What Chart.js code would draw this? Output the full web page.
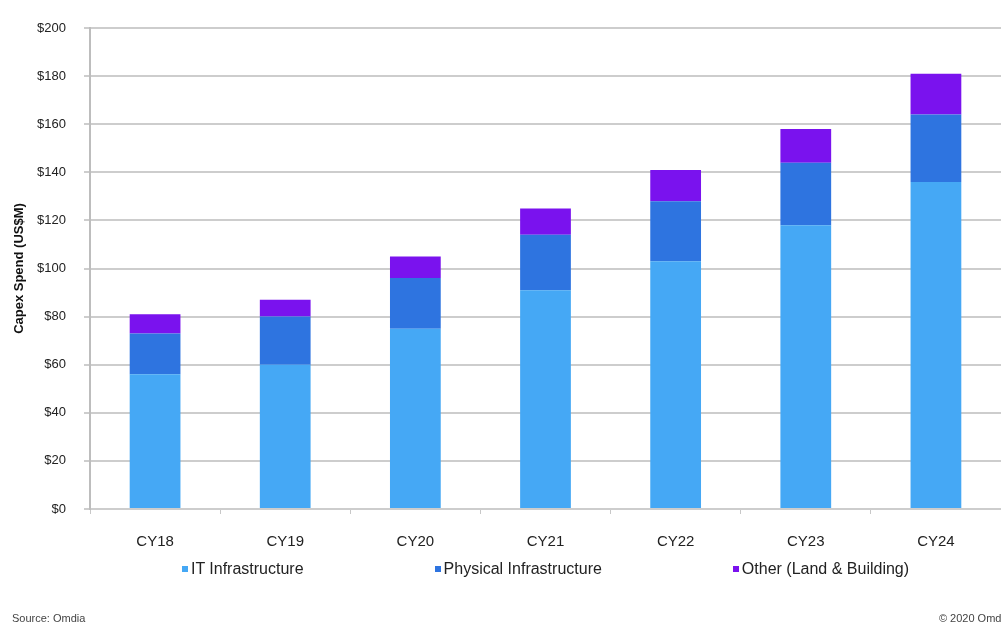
<!DOCTYPE html>
<html>
<head>
<meta charset="utf-8">
<script src="https://cdn.jsdelivr.net/npm/chart.js@4/dist/chart.umd.min.js"></script>
<style>
  html, body { margin: 0; padding: 0; background: #fff; }
  #wrap { position: relative; width: 1001px; height: 630px; overflow: hidden; }
  #capexChart { position: absolute; left: 0; top: 0; }
  #legend {
    position: absolute; left: 90px; width: 911px; top: 560px;
    display: flex; justify-content: center; gap: 131px;
    font-family: "Liberation Sans", Arial, sans-serif;
    font-size: 16px; color: #222;
  }
  #legend .item { display: flex; align-items: center; }
  #legend .box { width: 6px; height: 6px; margin-right: 3px; }
  .foot {
    position: absolute; top: 612px;
    font-family: "Liberation Sans", Arial, sans-serif;
    font-size: 11px; color: #444;
  }
</style>
</head>
<body>
<div id="wrap">
  <canvas id="capexChart" width="1001" height="630"></canvas>
  <div id="legend"></div>
  <div class="foot" style="left:12px;">Source: Omdia</div>
  <div class="foot" style="right:-9px;">© 2020 Omdia</div>
</div>
<script>
const years = ['CY18', 'CY19', 'CY20', 'CY21', 'CY22', 'CY23', 'CY24'];
const itInfra = [56, 60, 75, 91, 103, 118, 136];
const physicalInfra = [17, 20, 21, 23, 25, 26, 28];
const otherLand = [8, 7, 9, 11, 13, 14, 17];

const seriesNames = ['IT Infrastructure', 'Physical Infrastructure', 'Other (Land & Building)'];
const seriesColors = ['#45a8f5', '#2e74e0', '#7a12ee'];

const fontFamily = '"Liberation Sans", Arial, sans-serif';

function initializeCapexChart() {
    const ctx = document.getElementById('capexChart').getContext('2d');
    const values = [itInfra, physicalInfra, otherLand];

    const chart = new Chart(ctx, {
        type: 'bar',
        data: {
            labels: years,
            datasets: values.map((data, i) => ({
                label: seriesNames[i],
                data: data,
                backgroundColor: seriesColors[i],
                borderWidth: 0,
                categoryPercentage: 1,
                barPercentage: 0.39
            }))
        },
        options: {
            responsive: false,
            animation: false,
            layout: {
                padding: { top: 28, right: 0, bottom: 60, left: 0 }
            },
            plugins: {
                legend: { display: false },
                tooltip: { enabled: false }
            },
            scales: {
                x: {
                    stacked: true,
                    grid: {
                        drawOnChartArea: false,
                        drawTicks: true,
                        tickLength: 5,
                        color: '#c8c8c8'
                    },
                    border: { display: false },
                    ticks: {
                        padding: 19,
                        color: '#222',
                        font: { family: fontFamily, size: 15 }
                    }
                },
                y: {
                    stacked: true,
                    min: 0,
                    max: 200,
                    afterFit: scale => { scale.width = 90; },
                    grid: {
                        color: '#cdcdcd',
                        lineWidth: 2,
                        tickLength: 6
                    },
                    border: { color: '#bdbdbd', width: 2 },
                    ticks: {
                        stepSize: 20,
                        padding: 18,
                        color: '#222',
                        font: { family: fontFamily, size: 13 },
                        callback: v => '$' + v
                    },
                    title: {
                        display: true,
                        text: 'Capex Spend (US$M)',
                        color: '#111',
                        padding: { top: 12, bottom: 0 },
                        font: { family: fontFamily, size: 13, weight: 'bold' }
                    }
                }
            }
        }
    });

    // html legend built from the datasets
    const legend = document.getElementById('legend');
    chart.data.datasets.forEach(ds => {
        const item = document.createElement('div');
        item.className = 'item';
        const box = document.createElement('span');
        box.className = 'box';
        box.style.background = ds.backgroundColor;
        const text = document.createElement('span');
        text.textContent = ds.label;
        item.appendChild(box);
        item.appendChild(text);
        legend.appendChild(item);
    });
}

initializeCapexChart();
</script>
</body>
</html>
